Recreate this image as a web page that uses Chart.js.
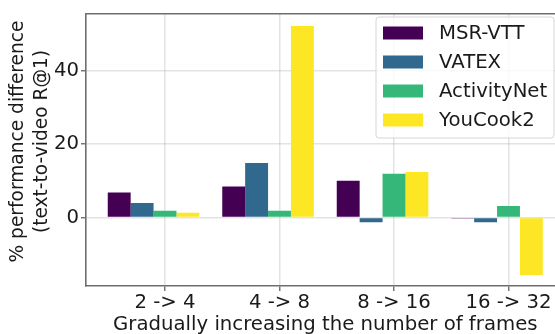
<!DOCTYPE html>
<html>
<head>
<meta charset="utf-8">
<script src="https://cdn.jsdelivr.net/npm/chart.js@4.4.1/dist/chart.umd.min.js"></script>
<style>
html, body { margin: 0; padding: 0; overflow: hidden; background: #fff; }
</style>
</head>
<body>
<canvas id="chart" width="566" height="334"></canvas>
<script>
var frameSteps = ['2 -> 4', '4 -> 8', '8 -> 16', '16 -> 32'];
var msrVtt = [6.8, 8.4, 10.0, -0.3];
var vatex = [3.9, 14.8, -1.3, -1.3];
var activityNet = [1.8, 1.8, 11.9, 3.1];
var youCook2 = [1.25, 52.2, 12.4, -15.7];
var yTicks = [0, 20, 40];
var yTitle = ['% performance difference', '(text-to-video R@1)'];

var FONT = 'DejaVu Sans';
var FS = 19.7;
var spineColor = '#6e6e6e';
var gridColor = 'rgba(176,176,176,0.35)';
var textColor = '#1a1a1a';

// bars of a group sit half a bar left of the tick (as in the original plot)
function points(values) {
	return values.map(function(v, i) { return {x: i - 0.1, y: v}; });
}

var frameAndLegend = {
	id: 'frameAndLegend',
	afterDraw: function(chart) {
		var ctx = chart.ctx;
		var a = chart.chartArea;
		ctx.save();
		// top spine
		ctx.strokeStyle = spineColor;
		ctx.lineWidth = 1.6;
		ctx.beginPath();
		ctx.moveTo(a.left - 0.8, a.top);
		ctx.lineTo(a.right, a.top);
		ctx.stroke();

		// y axis title, two lines
		ctx.save();
		ctx.translate(0, 141.5);
		ctx.rotate(-Math.PI / 2);
		ctx.font = '18.6px "' + FONT + '"';
		ctx.fillStyle = textColor;
		ctx.textAlign = 'center';
		ctx.textBaseline = 'middle';
		ctx.fillText(yTitle[0], 0, 18);
		ctx.fillText(yTitle[1], 0, 42.5);
		ctx.restore();

		// legend box
		var x = 376, y = 17, w = 178, h = 121;
		ctx.beginPath();
		if (ctx.roundRect) ctx.roundRect(x, y, w, h, 3); else ctx.rect(x, y, w, h);
		ctx.fillStyle = 'rgba(255,255,255,0.8)';
		ctx.fill();
		ctx.strokeStyle = '#d6d6d6';
		ctx.lineWidth = 1;
		ctx.stroke();

		ctx.font = FS + 'px "' + FONT + '"';
		ctx.textBaseline = 'middle';
		ctx.textAlign = 'left';
		chart.data.datasets.forEach(function(ds, i) {
			var cy = 33 + i * 29;
			ctx.fillStyle = ds.backgroundColor;
			ctx.fillRect(383, cy - 6.5, 40, 13);
			ctx.fillStyle = textColor;
			ctx.fillText(ds.label, 439, cy + 0.5);
		});
		ctx.restore();
	}
};

var ctx = document.getElementById('chart');

var chart = new Chart(ctx, {
	type: 'bar',
	data: {
		datasets: [
			{label: 'MSR-VTT', data: points(msrVtt), backgroundColor: '#440154'},
			{label: 'VATEX', data: points(vatex), backgroundColor: '#31688e'},
			{label: 'ActivityNet', data: points(activityNet), backgroundColor: '#35b779'},
			{label: 'YouCook2', data: points(youCook2), backgroundColor: '#fde725'}
		]
	},
	options: {
		responsive: false,
		animation: false,
		categoryPercentage: 0.8,
		barPercentage: 1.0,
		layout: {padding: {left: 0, top: 7, right: 1.4, bottom: 0}},
		plugins: {
			legend: {display: false},
			tooltip: {enabled: false}
		},
		scales: {
			x: {
				type: 'linear',
				min: -0.69,
				max: 3.49,
				offset: false,
				z: 1,
				afterFit: function(s) { s.height = 48; },
				afterBuildTicks: function(s) {
					s.ticks = frameSteps.map(function(c, i) { return {value: i}; });
				},
				ticks: {
					color: textColor,
					font: {family: FONT, size: FS},
					padding: 0.5,
					maxRotation: 0,
					callback: function(v) { return frameSteps[v]; }
				},
				grid: {
					offset: false,
					color: gridColor,
					lineWidth: 1.5,
					tickLength: 5,
					tickColor: spineColor,
					tickWidth: 1.4
				},
				border: {color: spineColor, width: 1.6},
				title: {
					display: true,
					text: 'Gradually increasing the number of frames',
					color: textColor,
					font: {family: FONT, size: FS, lineHeight: 1.0},
					padding: {top: 0, bottom: -0.5}
				}
			},
			y: {
				min: -18.7,
				max: 55.5,
				z: 1,
				afterFit: function(s) { s.width = 86; },
				afterBuildTicks: function(s) {
					s.ticks = yTicks.map(function(v) { return {value: v}; });
				},
				ticks: {
					color: textColor,
					font: {family: FONT, size: FS},
					padding: 2
				},
				grid: {
					color: gridColor,
					lineWidth: 1.5,
					tickLength: 5,
					tickColor: spineColor,
					tickWidth: 1.4
				},
				border: {color: spineColor, width: 1.6}
			}
		}
	},
	plugins: [frameAndLegend]
});
</script>
</body>
</html>
